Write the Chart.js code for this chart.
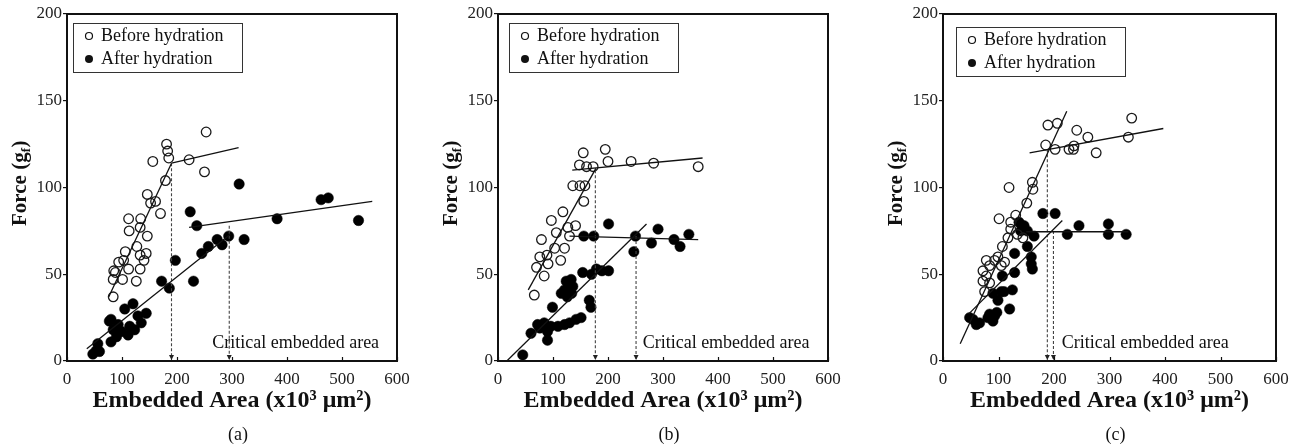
<!DOCTYPE html>
<html><head><meta charset="utf-8">
<script src="https://cdn.jsdelivr.net/npm/chart.js@4.4.0/dist/chart.umd.min.js"></script>
<style>
html,body{margin:0;padding:0;background:#fff;overflow:hidden;width:1302px;height:446px;}
.panel{position:absolute;top:0;height:446px;}
canvas{display:block;}
</style></head><body>
<div class="panel" style="left:0px;width:430px"><canvas id="ca" width="430" height="446"></canvas></div>
<div class="panel" style="left:430px;width:430px"><canvas id="cb" width="430" height="446"></canvas></div>
<div class="panel" style="left:872px;width:430px"><canvas id="cc" width="430" height="446"></canvas></div>
<script>
// ---------- data ----------
const xTicks = [0,100,200,300,400,500,600];
const yTicks = [0,50,100,150,200];
const seriesNames = ['Before hydration','After hydration'];
const captions = ['(a)','(b)','(c)'];
const critLabel = 'Critical embedded area';
const xTitle = 'Embedded Area (x10\u00B3 \u03BCm\u00B2)';

// panel (a)
const beforeA = [[253,132],[181,125],[183,121],[185,117],[156,115],[222,116],[250,109],[179,104],[146,96],[152,91],[161,92],[170,85],[112,82],[134,82],[113,75],[133,77],[146,72],[127,66],[106,63],[144,62],[103,58],[133,61],[94,57],[140,58],[85,52],[133,53],[112,53],[84,47],[101,47],[126,46],[84,37],[88,51]];
const afterA = [[313,102],[224,86],[236,78],[462,93],[475,94],[382,82],[530,81],[294,72],[322,70],[282,67],[273,70],[257,66],[245,62],[197,58],[172,46],[230,46],[186,42],[120,33],[105,30],[144,27.5],[129,26],[80,24],[77,23],[93,21],[135,22],[114,20],[84,18],[99,17],[123,18],[90,14],[111,15],[80,11],[56,10],[53,6],[47,4],[59,5.5]];
const fitBeforeA1 = [[76,37],[190,114]];
const fitBeforeA2 = [[190,114],[312,123]];
const fitAfterA1 = [[36,7],[297,73]];
const fitAfterA2 = [[222,77],[555,92]];
const critA = [[190,114],[295,78]];

// panel (b)
const beforeB = [[155,120],[195,122],[200,115],[242,115],[283,114],[364,112],[148,113],[161,112],[173,112],[136,101],[149,101],[158,101],[156,92],[97,81],[118,86],[106,74],[127,77],[141,78],[79,70],[130,72],[121,65],[103,65],[89,61],[76,60],[114,58],[91,56],[70,54],[84,49],[66,38]];
const afterB = [[201,79],[291,76],[250,72],[156,72],[174,72],[279,68],[320,70],[331,66],[347,73],[247,63],[154,51],[179,53],[189,52],[201,52],[170,50],[133,47],[124,46],[136,43],[121,41],[115,39],[134,39],[126,37],[166,35],[169,31],[99,31],[151,25],[142,24],[130,22],[121,21],[109,20],[96,20],[84,22],[72,21],[90,17],[60,16],[90,12],[45,3.5],[76,19]];
const fitBeforeB1 = [[55,41],[178,111]];
const fitBeforeB2 = [[135,110],[372,117]];
const fitAfterB1 = [[16,0],[270,79]];
const fitAfterB2 = [[130,72],[364,70]];
const critB = [[177,110],[251,72]];

// panel (c)
const beforeC = [[340,140],[189,136],[206,137],[241,133],[261,129],[334,129],[185,124.5],[202,122],[227,122],[235,122],[236,124],[276,120],[119,100],[161,103],[162,99],[151,91],[101,82],[122,80],[131,84],[122,76],[134,73],[144,71],[117,71],[107,66],[99,60],[78,58],[93,58],[84,55],[105,55],[72,52],[78,49],[72,46],[84,45],[75,40],[111,57]];
const afterC = [[180,85],[202,85],[245,78],[224,73],[298,79],[298,73],[330,73],[137,80],[146,78],[140,75],[152,75],[164,72],[152,66],[159,60],[159,56],[161,53],[129,62],[107,49],[129,51],[125,41],[110,40],[105,40],[90,39],[99,35],[120,30],[97,28],[84,27],[93,26],[90,23],[54,24],[48,25],[66,22],[81,25],[60,21]];
const fitBeforeC1 = [[31,10],[223,144]];
const fitBeforeC2 = [[156,120],[397,134]];
const fitAfterC1 = [[46,27],[215,81]];
const fitAfterC2 = [[150,74.5],[334,74.5]];
const critC = [[188,122],[199,75]];

// ---------- drawing ----------
const FONT = '"Liberation Serif", "Times New Roman", serif';
function pts(arr){ return arr.map(([x,y]) => ({x, y})); }

const decor = {
  id: 'decor',
  afterDraw(chart, args, o) {
    const {ctx, chartArea: a, scales: {x, y}} = chart;
    ctx.save();
    // arrowheads at foot of critical lines
    ctx.fillStyle = '#222';
    o.crit.forEach(([cx]) => {
      const px = x.getPixelForValue(cx), py = a.bottom;
      ctx.beginPath();
      ctx.moveTo(px - 2.5, py - 6); ctx.lineTo(px + 2.5, py - 6); ctx.lineTo(px, py - 1);
      ctx.closePath(); ctx.fill();
    });
    // inward x tick marks
    ctx.strokeStyle = '#111'; ctx.lineWidth = 1.2;
    x.ticks.forEach(t => {
      const px = Math.round(x.getPixelForValue(t.value)) + 0.5;
      ctx.beginPath(); ctx.moveTo(px, a.bottom); ctx.lineTo(px, a.bottom - 4); ctx.stroke();
    });
    // frame
    ctx.lineWidth = 2; ctx.strokeStyle = '#111';
    ctx.strokeRect(a.left, a.top, a.right - a.left, a.bottom - a.top);
    // legend box
    const lx = a.left + o.legDx, ly = a.top + o.legDy, lw = 169, lh = 49;
    ctx.lineWidth = 1; ctx.strokeStyle = '#333';
    ctx.strokeRect(lx + 0.5, ly + 0.5, lw, lh);
    ctx.font = '18px ' + FONT; ctx.fillStyle = '#111';
    ctx.textAlign = 'left'; ctx.textBaseline = 'middle';
    ctx.beginPath(); ctx.arc(lx + 16, ly + 13, 3.5, 0, Math.PI * 2);
    ctx.lineWidth = 1.2; ctx.strokeStyle = '#111'; ctx.stroke();
    ctx.fillText(seriesNames[0], lx + 28, ly + 13);
    ctx.beginPath(); ctx.arc(lx + 16, ly + 36, 4, 0, Math.PI * 2); ctx.fill();
    ctx.fillText(seriesNames[1], lx + 28, ly + 36);
    // critical text
    ctx.fillText(critLabel, x.getPixelForValue(o.critTextX), a.bottom - 18);
    // y title with subscript
    ctx.save();
    ctx.translate(a.left - 48, (a.top + a.bottom) / 2 - 4);
    ctx.rotate(-Math.PI / 2);
    const big = 'bold 21px ' + FONT, small = 'bold 13px ' + FONT;
    ctx.font = big; const w1 = ctx.measureText('Force (g').width; const w3 = ctx.measureText(')').width;
    ctx.font = small; const w2 = ctx.measureText('f').width;
    let sx = -(w1 + w2 + w3) / 2;
    ctx.textAlign = 'left'; ctx.textBaseline = 'alphabetic';
    ctx.font = big; ctx.fillText('Force (g', sx, 7);
    ctx.font = small; ctx.fillText('f', sx + w1, 11);
    ctx.font = big; ctx.fillText(')', sx + w1 + w2 + 0.5, 7);
    ctx.restore();
    // caption
    ctx.font = '18px ' + FONT; ctx.textAlign = 'center'; ctx.textBaseline = 'middle';
    ctx.fillText(o.caption, (a.left + a.right) / 2 + 6, 435);
    ctx.restore();
  }
};

function makeChart(p) {
  const ds = [
    {type: 'scatter', label: seriesNames[0], data: pts(p.before), pointRadius: 4.8, pointHoverRadius: 4.8,
     pointBackgroundColor: 'rgba(255,255,255,0)', pointBorderColor: '#1a1a1a', pointBorderWidth: 1.3, order: 2},
    {type: 'scatter', label: seriesNames[1], data: pts(p.after), pointRadius: 5.2, pointHoverRadius: 5.2,
     pointBackgroundColor: '#000', pointBorderColor: '#000', pointBorderWidth: 0.5, order: 2}
  ];
  p.fits.forEach(f => ds.push({type: 'line', data: pts(f), borderColor: '#111', borderWidth: 1.3,
    pointRadius: 0, fill: false, tension: 0, order: 1}));
  p.crit.forEach(([cx, top]) => ds.push({type: 'line', data: [{x: cx, y: top}, {x: cx, y: 0}],
    borderColor: '#444', borderWidth: 1.1, borderDash: [3, 2], pointRadius: 0, fill: false, order: 1}));

  new Chart(document.getElementById(p.id), {
    type: 'scatter',
    data: {datasets: ds},
    plugins: [decor],
    options: {
      responsive: false, animation: false, events: [],
      layout: {padding: {left: 0, right: p.padR, top: 14, bottom: 0}},
      plugins: {
        legend: {display: false}, tooltip: {enabled: false},
        decor: {crit: p.crit, critTextX: p.critTextX, legDx: p.legDx, legDy: p.legDy, caption: p.caption}
      },
      scales: {
        x: {
          type: 'linear', min: xTicks[0], max: xTicks[xTicks.length - 1],
          afterBuildTicks: s => { s.ticks = xTicks.map(v => ({value: v})); },
          afterFit: s => { s.height = 85; },
          grid: {display: true, drawOnChartArea: false, drawTicks: false},
          border: {display: false},
          ticks: {padding: 8, font: {family: FONT, size: 17}, color: '#222', maxRotation: 0, autoSkip: false},
          title: {display: true, text: xTitle, font: {family: FONT, size: 24, weight: 'bold'}, color: '#111',
                  padding: {top: 0, bottom: 31}}
        },
        y: {
          type: 'linear', min: yTicks[0], max: yTicks[yTicks.length - 1],
          afterBuildTicks: s => { s.ticks = yTicks.map(v => ({value: v})); },
          afterFit: s => { s.width = p.yW; },
          grid: {display: true, drawOnChartArea: false, drawTicks: true, tickLength: 4, color: '#111', lineWidth: 1.2},
          border: {display: false},
          ticks: {padding: 1, font: {family: FONT, size: 17}, color: '#222', autoSkip: false}
        }
      }
    }
  });
}

makeChart({id: 'ca', yW: 67, padR: 33, before: beforeA, after: afterA,
  fits: [fitBeforeA1, fitBeforeA2, fitAfterA1, fitAfterA2], crit: critA, critTextX: 264,
  legDx: 6, legDy: 9, caption: captions[0]});
makeChart({id: 'cb', yW: 68, padR: 32, before: beforeB, after: afterB,
  fits: [fitBeforeB1, fitBeforeB2, fitAfterB1, fitAfterB2], crit: critB, critTextX: 263,
  legDx: 11, legDy: 9, caption: captions[1]});
makeChart({id: 'cc', yW: 71, padR: 26, before: beforeC, after: afterC,
  fits: [fitBeforeC1, fitBeforeC2, fitAfterC1, fitAfterC2], crit: critC, critTextX: 214,
  legDx: 13, legDy: 13, caption: captions[2]});
</script>
</body></html>
